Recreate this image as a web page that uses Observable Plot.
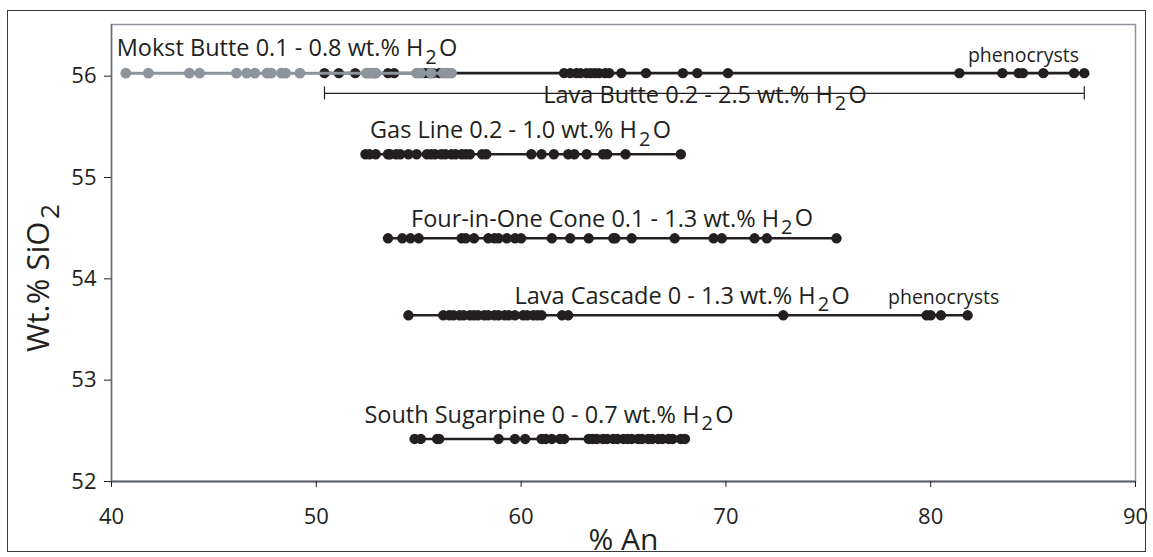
<!DOCTYPE html>
<html>
<head>
<meta charset="utf-8">
<script src="https://cdn.jsdelivr.net/npm/d3@7"></script>
<script src="https://cdn.jsdelivr.net/npm/@observablehq/plot@0.6"></script>
<style>
  html, body { margin: 0; padding: 0; background: #fff; }
  #wrap { position: relative; width: 1153px; height: 557px; overflow: hidden; }
  #border { position: absolute; left: 7px; top: 10px; width: 1137px; height: 540px; border: 1.5px solid #3a3a3a; pointer-events: none; }
  svg text { font-family: "Open Sans", sans-serif; }
</style>
</head>
<body>
<div id="wrap"><div id="border"></div></div>
<script>
// ---- data ----
const seriesNames = ["Mokst Butte", "Lava Butte", "Gas Line", "Four-in-One Cone", "Lava Cascade", "South Sugarpine"];
const seriesSiO2 = [56.03, 56.03, 55.23, 54.40, 53.64, 52.42];
const seriesLabels = [
  "Mokst Butte 0.1 - 0.8 wt.% H2O",
  "Lava Butte 0.2 - 2.5 wt.% H2O",
  "Gas Line 0.2 - 1.0 wt.% H2O",
  "Four-in-One Cone 0.1 - 1.3 wt.% H2O",
  "Lava Cascade 0 - 1.3 wt.% H2O",
  "South Sugarpine 0 - 0.7 wt.% H2O"
];
const labelAn = [48.57, 68.98, 59.97, 64.44, 67.86, 61.36];
const labelSiO2 = [56.27, 55.81, 55.46, 54.59, 53.83, 52.65];

const mokstAn = [40.7, 41.8, 43.8, 44.3, 46.1, 46.6, 47.0, 47.6, 47.8, 48.3, 48.5, 49.2, 52.45, 52.6, 52.75, 52.9, 54.9, 55.1, 55.6, 56.2, 56.4, 56.6];
const lavaButteAn = [50.4, 51.1, 51.9, 52.9, 53.5, 53.8, 55.3, 55.5, 55.7, 56.0, 62.1, 62.4, 62.7, 62.9, 63.2, 63.4, 63.6, 63.8, 64.1, 64.3, 64.9, 66.1, 67.9, 68.6, 70.1, 81.4, 83.5, 84.3, 84.5, 85.5, 87.0, 87.5];
const gasLineAn = [52.4, 52.6, 52.9, 53.5, 53.6, 53.9, 54.1, 54.5, 54.9, 55.4, 55.6, 55.8, 56.1, 56.3, 56.6, 56.8, 57.1, 57.3, 57.5, 58.1, 58.3, 60.5, 61.0, 61.6, 62.3, 62.6, 63.2, 64.0, 64.2, 65.1, 67.8];
const fourInOneAn = [53.5, 54.2, 54.6, 55.0, 57.1, 57.3, 57.7, 58.4, 58.7, 58.9, 59.3, 59.7, 60.0, 61.5, 62.4, 63.3, 64.5, 64.6, 65.4, 67.5, 69.4, 69.8, 71.4, 72.0, 75.4];
const lavaCascadeAn = [54.5, 56.2, 56.5, 56.7, 57.0, 57.2, 57.5, 57.7, 57.9, 58.2, 58.4, 58.7, 58.9, 59.2, 59.4, 59.7, 60.1, 60.3, 60.6, 60.8, 61.0, 62.0, 62.3, 72.8, 79.8, 80.0, 80.5, 81.8];
const southSugarpineAn = [54.8, 55.1, 55.9, 56.0, 58.9, 59.7, 60.2, 61.0, 61.2, 61.5, 61.9, 62.1, 63.3, 63.5, 63.7, 64.0, 64.2, 64.5, 64.7, 65.0, 65.2, 65.4, 65.7, 65.9, 66.2, 66.4, 66.7, 66.9, 67.2, 67.4, 67.8, 68.0];

const phenoText = ["phenocrysts", "phenocrysts"];
const phenoAn = [84.53, 80.63];
const phenoSiO2 = [56.2, 53.81];

const xTicks = [40, 50, 60, 70, 80, 90];
const yTicks = [52, 53, 54, 55, 56];
const xTitle = "% An";
const yTitle = "Wt.% SiO2";

// ---- build tables ----
const seriesAn = [mokstAn, lavaButteAn, gasLineAn, fourInOneAn, lavaCascadeAn, southSugarpineAn];
const rows = [];
seriesAn.forEach((arr, i) => arr.slice().sort((a, b) => a - b).forEach(v => rows.push({series: seriesNames[i], an: v, sio2: seriesSiO2[i]})));
const grayRows = rows.filter(d => d.series === "Mokst Butte");
const blackRows = rows.filter(d => d.series !== "Mokst Butte");
const labels = seriesLabels.map((t, i) => ({text: t, an: labelAn[i], sio2: labelSiO2[i]}));
const pheno = phenoText.map((t, i) => ({text: t, an: phenoAn[i], sio2: phenoSiO2[i]}));

// Lava Butte range bracket
const lbExtent = d3.extent(lavaButteAn);
const bracketY = labelSiO2[1] + 0.02;

const black = "#231f20";
const gray = "#8d949b";

const chart = Plot.plot({
  width: 1153,
  height: 557,
  marginLeft: 111,
  marginRight: 18,
  marginTop: 24,
  marginBottom: 76,
  x: {domain: [40, 90], label: null},
  y: {domain: [52, 56.51], label: null},
  style: {fontFamily: "Open Sans, sans-serif", color: "#231f20", background: "transparent"},
  marks: [
    Plot.frame({stroke: "#8d949b", strokeWidth: 1.5}),
    Plot.ruleX([40], {stroke: "#6b7178", strokeWidth: 1.5}),
    Plot.ruleY([52], {stroke: "#5c6168", strokeWidth: 2}),
    Plot.axisY(yTicks, {tickSize: 7, tickPadding: 8, fontSize: 22, label: null, stroke: black, tickFormat: d => String(d)}),
    Plot.axisX(xTicks, {tickSize: 6, tickPadding: 21, fontSize: 22, label: null, stroke: black, tickFormat: d => String(d)}),
    // Lava Butte bracket
    Plot.ruleY([bracketY], {x1: lbExtent[0], x2: lbExtent[1], stroke: black, strokeWidth: 1.2}),
    Plot.ruleX(lbExtent, {y1: bracketY - 0.065, y2: bracketY + 0.065, stroke: black, strokeWidth: 1.2}),
    // black series
    Plot.line(blackRows, {x: "an", y: "sio2", z: "series", stroke: black, strokeWidth: 2.6}),
    Plot.dot(blackRows, {x: "an", y: "sio2", r: 5.2, fill: black}),
    // gray series (Mokst Butte) on top
    Plot.line(grayRows, {x: "an", y: "sio2", stroke: gray, strokeWidth: 3}),
    Plot.dot(grayRows, {x: "an", y: "sio2", r: 5.4, fill: gray}),
    // labels
    Plot.text(labels, {x: "an", y: "sio2", text: "text", fontSize: 23.5, fill: black, textAnchor: "middle"}),
    Plot.text(pheno, {x: "an", y: "sio2", text: "text", fontSize: 19.5, fill: black, textAnchor: "middle"}),
    // axis titles
    Plot.text([yTitle], {frameAnchor: "left", dx: -72, dy: 25, rotate: -90, textAnchor: "middle", fontSize: 31, fill: black}),
    Plot.text([xTitle], {frameAnchor: "bottom", dy: 68, textAnchor: "middle", fontSize: 30, fill: black})
  ]
});

document.getElementById("wrap").appendChild(chart);

// subscripts for chemical formulas
function applySub(el, before, sub, after) {
  while (el.firstChild) el.removeChild(el.firstChild);
  const ns = "http://www.w3.org/2000/svg";
  const a = document.createElementNS(ns, "tspan"); a.textContent = before; el.appendChild(a);
  const s = document.createElementNS(ns, "tspan"); s.textContent = sub;
  s.setAttribute("dy", "0.36em"); s.setAttribute("dx", "0.1em"); s.setAttribute("font-size", "0.85em"); el.appendChild(s);
  if (after) {
    const b = document.createElementNS(ns, "tspan"); b.textContent = after;
    b.setAttribute("dy", "-0.31em"); b.setAttribute("dx", "0.1em"); el.appendChild(b);
  }
}
d3.select(chart).selectAll("text").each(function () {
  const t = this.textContent;
  if (this.querySelector("tspan")) return;
  let m;
  if ((m = t.match(/^(.*H)2(O)$/))) applySub(this, m[1], "2", m[2]);
  else if ((m = t.match(/^(.*SiO)2$/))) applySub(this, m[1], "2", "");
});

// white background behind Lava Butte label to interrupt the bracket
d3.select(chart).selectAll("text").each(function () {
  if (this.textContent.startsWith("Lava Butte")) {
    const bb = this.getBBox();
    const r = document.createElementNS("http://www.w3.org/2000/svg", "rect");
    r.setAttribute("x", bb.x - 5); r.setAttribute("y", bb.y);
    r.setAttribute("width", bb.width + 10); r.setAttribute("height", bb.height);
    r.setAttribute("fill", "white");
    this.parentNode.insertBefore(r, this);
  }
});
</script>
</body>
</html>
